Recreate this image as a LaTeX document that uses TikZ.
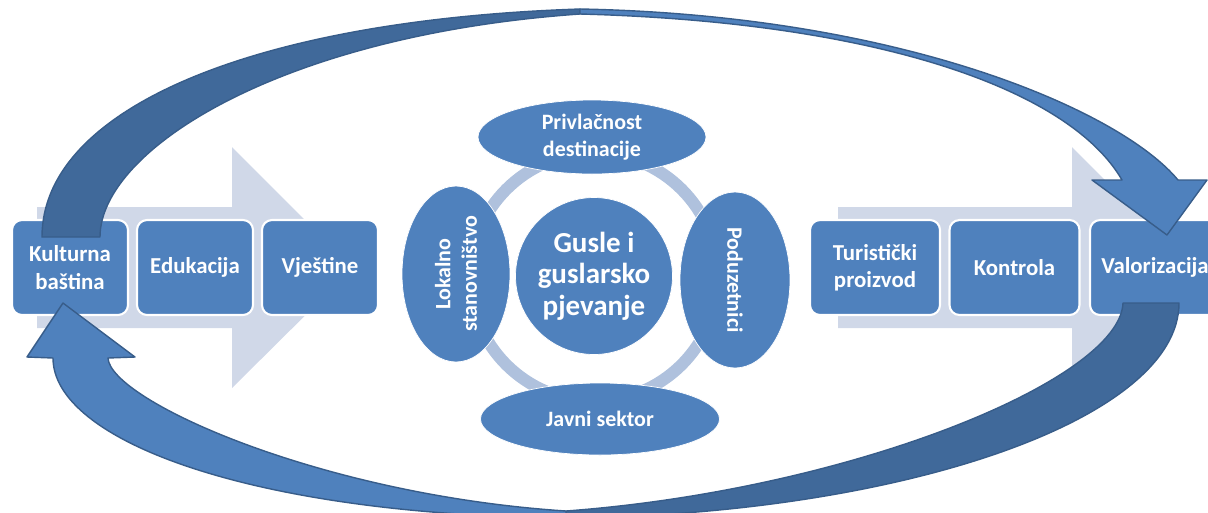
\documentclass[tikz,border=0pt]{standalone}
\usepackage{fontspec}
\setmainfont{Carlito}
\usetikzlibrary{shapes.geometric}

\definecolor{boxblue}{HTML}{4F81BD}
\definecolor{darkblue}{HTML}{40699A}
\definecolor{edgeblue}{HTML}{385D8A}
\definecolor{paleblue}{HTML}{D0D8E8}
\definecolor{ringblue}{HTML}{AFC1DD}

\tikzset{
  stepbox/.style={draw=white, line width=1.2pt, fill=boxblue, rounded corners=0.2cm,
    minimum height=1.9cm, text=white, align=center, inner sep=1pt,
    font=\bfseries\fontsize{13}{15.5}\selectfont},
  actor/.style={ellipse, draw=white, fill=boxblue, text=white, align=center, inner sep=0pt,
    font=\bfseries\fontsize{12.5}{15}\selectfont},
  loopback/.style={draw=edgeblue, line width=0.8pt, line join=round},
}

\begin{document}
\begin{tikzpicture}[x=0.02cm, y=-0.02cm]
\clip (0,0) rectangle (1208,512);

% pale process arrows
\fill[paleblue] (37,207) -- (232,207) -- (232,147) -- (353,268) -- (232,388) -- (232,328) -- (37,328) -- cycle;
\fill[paleblue] (838,207) -- (1072,207) -- (1072,147) -- (1193,268) -- (1072,388) -- (1072,328) -- (838,328) -- cycle;

% ring behind the actors
\draw[ringblue, line width=0.24cm] (594,277) circle[radius=2.48cm];

% left chain
\node[stepbox, minimum width=2.32cm] (kult) at (70,267.5) {Kulturna\\baština};
\node[stepbox, minimum width=2.32cm] (edu) at (195,267.5) {Edukacija};
\node[stepbox, minimum width=2.32cm] (vjes) at (320,267.5) {Vještine};

% right chain
\node[stepbox, minimum width=2.6cm] (tur) at (875,267.5) {Turistički\\proizvod};
\node[stepbox, minimum width=2.6cm] (kontr) at (1014.5,267.5) {Kontrola};
\node[stepbox, minimum width=2.6cm] (valor) at (1155,267.5) {Valorizacija};

% centre
\node[circle, draw=white, fill=boxblue, text=white, align=center, inner sep=0pt,
  minimum size=3.14cm, font=\bfseries\fontsize{16.5}{18}\selectfont] (gusle) at (594,276) {Gusle i\\guslarsko\\pjevanje};
\node[actor, minimum width=4.56cm, minimum height=1.48cm] (dest) at (592,137) {Privlačnost\\destinacije};
\node[actor, minimum width=4.78cm, minimum height=1.44cm] (javni) at (600,419) {Javni sektor};
\node[actor, minimum width=3.52cm, minimum height=2.16cm, rotate=90] (lokal) at (456,274) {Lokalno\\stanovništvo};
\node[actor, minimum width=3.52cm, minimum height=2.2cm, rotate=-90] (poduz) at (735,280) {Poduzetnici};

% upper loop arrow
\filldraw[loopback, fill=darkblue] (42,237) .. controls (42,110) and (250,20) .. (580,9)
  -- (580,14) .. controls (280,35) and (100,150) .. (100,237) -- cycle;
\filldraw[loopback, fill=boxblue] (580,14) .. controls (880,22) and (1070,90) .. (1122,180)
  -- (1092,180) -- (1167,235) -- (1207,180) -- (1178,180)
  .. controls (1120,110) and (900,15) .. (580,9) -- cycle;

% lower loop arrow
\filldraw[loopback, fill=darkblue] (1123,303) -- (1179,303) .. controls (1179,420) and (900,515) .. (566,518)
  -- (566,511) .. controls (850,490) and (1120,380) .. (1123,303) -- cycle;
\filldraw[loopback, fill=boxblue] (566,518) .. controls (250,515) and (53,440) .. (53,358)
  -- (27,357) -- (63,303) -- (135,357) -- (108,358)
  .. controls (110,400) and (320,495) .. (566,511) -- cycle;
\end{tikzpicture}
\end{document}
